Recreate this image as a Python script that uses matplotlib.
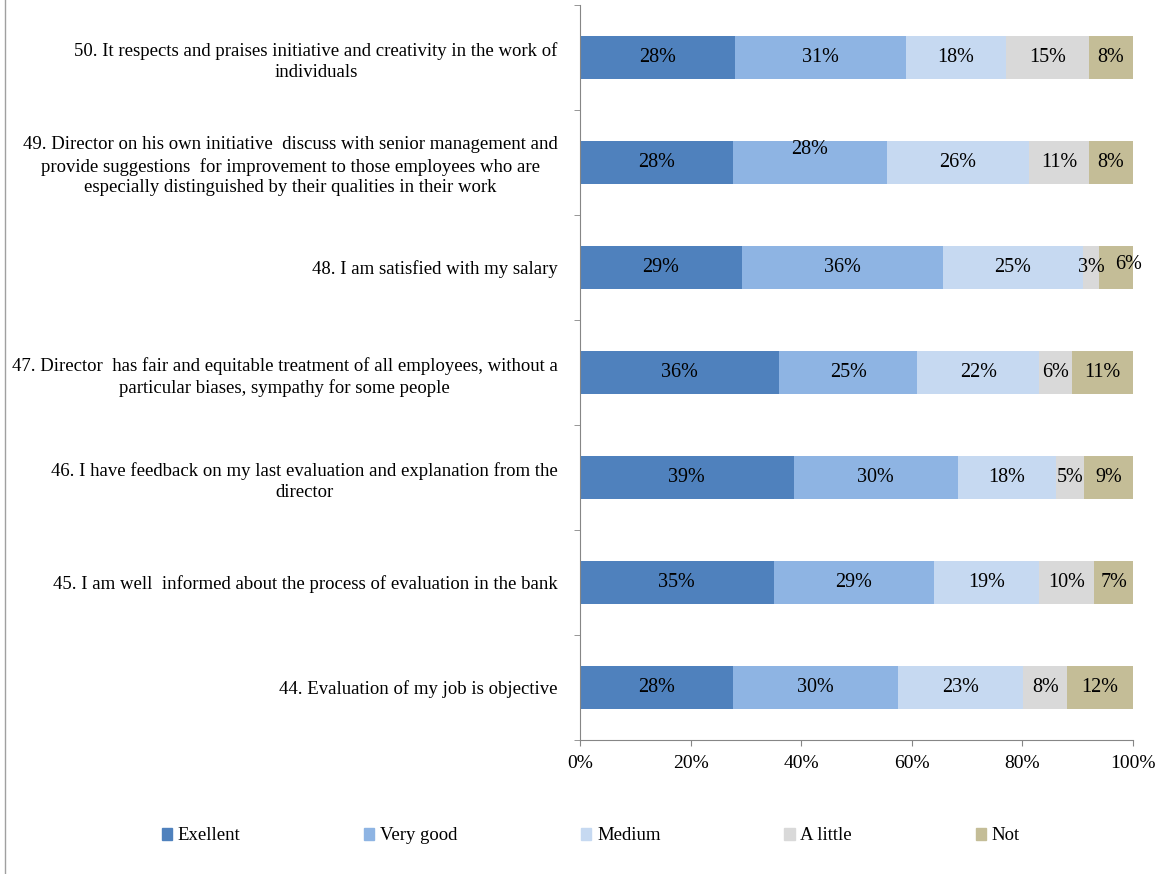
import matplotlib.pyplot as plt
from matplotlib.patches import Patch
from matplotlib.lines import Line2D
import numpy as np

plt.rcParams['font.family'] = ['Liberation Serif', 'DejaVu Serif']

questions = [
    '44. Evaluation of my job is objective',
    '45. I am well  informed about the process of evaluation in the bank',
    '46. I have feedback on my last evaluation and explanation from the\ndirector',
    '47. Director  has fair and equitable treatment of all employees, without a\nparticular biases, sympathy for some people',
    '48. I am satisfied with my salary',
    '49. Director on his own initiative  discuss with senior management and\nprovide suggestions  for improvement to those employees who are\nespecially distinguished by their qualities in their work',
    '50. It respects and praises initiative and creativity in the work of\nindividuals',
]
categories = ['Exellent', 'Very good', 'Medium', 'A little', 'Not']
excellent = [28, 35, 39, 36, 29, 28, 28]
very_good = [30, 29, 30, 25, 36, 28, 31]
medium = [23, 19, 18, 22, 25, 26, 18]
a_little = [8, 10, 5, 6, 3, 11, 15]
not_at_all = [12, 7, 9, 11, 6, 8, 8]
colors = ['#4F81BD', '#8EB4E3', '#C6D9F1', '#D9D9D9', '#C4BD97']

# hand-nudged data labels (row, series) -> offset in points
label_nudge = {(5, 1): (0, 9), (4, 4): (9, 2)}

series = np.array([excellent, very_good, medium, a_little, not_at_all], dtype=float)
shares = series / series.sum(axis=0) * 100  # 100% stacked

fig = plt.figure(figsize=(11.65, 8.74), dpi=100)
ax = fig.add_axes([580 / 1165, 1 - 740 / 874, 553 / 1165, 735 / 874])

y = np.arange(len(questions))
left = np.zeros(len(questions))
for i, name in enumerate(categories):
    ax.barh(y, shares[i], left=left, height=0.41, color=colors[i], label=name)
    for j in range(len(questions)):
        dx, dy = label_nudge.get((j, i), (0, 0))
        ax.annotate(f'{int(series[i, j])}%', (left[j] + shares[i, j] / 2, y[j]),
                    xytext=(dx, dy), textcoords='offset points',
                    ha='center', va='center', fontsize=14.5)
    left += shares[i]

ax.set_xlim(0, 100)
ax.set_ylim(-0.5, len(questions) - 0.5)
ax.set_xticks(range(0, 101, 20))
ax.set_xticklabels([f'{v}%' for v in range(0, 101, 20)], fontsize=14)
ax.set_yticks(y)
ax.set_yticklabels(questions, fontsize=13.5, multialignment='center', linespacing=1.3)
ax.set_yticks(np.arange(-0.5, len(questions), 1), minor=True)
ax.tick_params(axis='y', which='major', length=0, pad=16)
ax.tick_params(axis='y', which='minor', length=4, color='#868686', direction='out')
ax.tick_params(axis='x', length=4, color='#868686', pad=7)

for s in ['top', 'right']:
    ax.spines[s].set_visible(False)
for s in ['left', 'bottom']:
    ax.spines[s].set_color('#868686')

handles = [Patch(color=c, label=n) for c, n in zip(colors, categories)]
fig.legend(handles=handles, loc='center', bbox_to_anchor=(0.507, 1 - 836 / 874),
           ncol=5, frameon=False, fontsize=13.5, handlelength=0.55, handleheight=0.55,
           handletextpad=0.3, columnspacing=6.6)

fig.add_artist(Line2D([5 / 1165, 5 / 1165], [0, 1], color='#a0a0a0', lw=1))

plt.savefig('out.png', dpi=100)
